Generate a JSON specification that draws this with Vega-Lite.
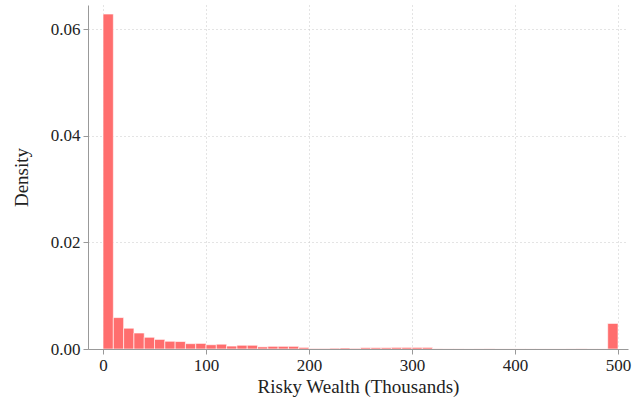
{
  "$schema": "https://vega.github.io/schema/vega-lite/v6.json",
  "width": 540,
  "height": 344,
  "autosize": {"type": "none"},
  "padding": {"left": 88, "top": 5, "right": 14, "bottom": 54},
  "background": "white",
  "config": {
    "view": {"stroke": null},
    "font": "Liberation Serif",
    "axis": {
      "labelFont": "Liberation Serif",
      "titleFont": "Liberation Serif",
      "labelFontSize": 17,
      "titleFontSize": 19,
      "titleFontWeight": "normal",
      "labelColor": "#222222",
      "titleColor": "#222222",
      "domain": true,
      "domainColor": "#999999",
      "domainWidth": 1,
      "tickColor": "#999999",
      "tickSize": 5,
      "gridColor": "#c8c8c8",
      "gridDash": [1, 3],
      "gridWidth": 1
    }
  },
  "data": {
    "values": [
      {"bin_start": 0, "bin_end": 10, "density": 0.0629},
      {"bin_start": 10, "bin_end": 20, "density": 0.0059},
      {"bin_start": 20, "bin_end": 30, "density": 0.0039},
      {"bin_start": 30, "bin_end": 40, "density": 0.003},
      {"bin_start": 40, "bin_end": 50, "density": 0.0022},
      {"bin_start": 50, "bin_end": 60, "density": 0.0018},
      {"bin_start": 60, "bin_end": 70, "density": 0.00145},
      {"bin_start": 70, "bin_end": 80, "density": 0.0014},
      {"bin_start": 80, "bin_end": 90, "density": 0.001},
      {"bin_start": 90, "bin_end": 100, "density": 0.00105},
      {"bin_start": 100, "bin_end": 110, "density": 0.0008},
      {"bin_start": 110, "bin_end": 120, "density": 0.0009},
      {"bin_start": 120, "bin_end": 130, "density": 0.00055},
      {"bin_start": 130, "bin_end": 140, "density": 0.0007},
      {"bin_start": 140, "bin_end": 150, "density": 0.0007},
      {"bin_start": 150, "bin_end": 160, "density": 0.0004},
      {"bin_start": 160, "bin_end": 170, "density": 0.0005},
      {"bin_start": 170, "bin_end": 180, "density": 0.0005},
      {"bin_start": 180, "bin_end": 190, "density": 0.0005},
      {"bin_start": 190, "bin_end": 200, "density": 0.0003},
      {"bin_start": 200, "bin_end": 210, "density": 0.0001},
      {"bin_start": 210, "bin_end": 220, "density": 0.0001},
      {"bin_start": 220, "bin_end": 230, "density": 0.00015},
      {"bin_start": 230, "bin_end": 240, "density": 0.0002},
      {"bin_start": 240, "bin_end": 250, "density": 0.00012},
      {"bin_start": 250, "bin_end": 260, "density": 0.00025},
      {"bin_start": 260, "bin_end": 270, "density": 0.00025},
      {"bin_start": 270, "bin_end": 280, "density": 0.00025},
      {"bin_start": 280, "bin_end": 290, "density": 0.0003},
      {"bin_start": 290, "bin_end": 300, "density": 0.0003},
      {"bin_start": 300, "bin_end": 310, "density": 0.0003},
      {"bin_start": 310, "bin_end": 320, "density": 0.0003},
      {"bin_start": 320, "bin_end": 330, "density": 0.00005},
      {"bin_start": 330, "bin_end": 340, "density": 0.00003},
      {"bin_start": 340, "bin_end": 350, "density": 0.00003},
      {"bin_start": 350, "bin_end": 360, "density": 0.00002},
      {"bin_start": 360, "bin_end": 370, "density": 0.00003},
      {"bin_start": 370, "bin_end": 380, "density": 0.00005},
      {"bin_start": 380, "bin_end": 390, "density": 0.00002},
      {"bin_start": 390, "bin_end": 400, "density": 0.00002},
      {"bin_start": 400, "bin_end": 410, "density": 0.00002},
      {"bin_start": 410, "bin_end": 420, "density": 0.00002},
      {"bin_start": 420, "bin_end": 430, "density": 0.00002},
      {"bin_start": 430, "bin_end": 440, "density": 0.00002},
      {"bin_start": 440, "bin_end": 450, "density": 0.00002},
      {"bin_start": 450, "bin_end": 460, "density": 0.00003},
      {"bin_start": 460, "bin_end": 470, "density": 0.00005},
      {"bin_start": 470, "bin_end": 480, "density": 0.00002},
      {"bin_start": 480, "bin_end": 490, "density": 0.00002},
      {"bin_start": 490, "bin_end": 500, "density": 0.0048}
    ]
  },
  "mark": {"type": "bar", "fill": "#ff6e6e", "stroke": "white", "strokeWidth": 1, "strokeOpacity": 0.6, "clip": true},
  "encoding": {
    "x": {
      "field": "bin_start",
      "type": "quantitative",
      "scale": {"domain": [-14.6, 509.7], "nice": false, "zero": false},
      "axis": {"values": [0, 100, 200, 300, 400, 500], "title": "Risky Wealth (Thousands)", "labelPadding": 3, "titlePadding": 4, "grid": true}
    },
    "x2": {"field": "bin_end"},
    "y": {
      "field": "density",
      "type": "quantitative",
      "scale": {"domain": [0, 0.0646], "nice": false},
      "axis": {"values": [0, 0.02, 0.04, 0.06], "format": ".2f", "title": "Density", "labelPadding": 3, "titlePadding": 19, "grid": true}
    },
    "y2": {"datum": 0}
  }
}
